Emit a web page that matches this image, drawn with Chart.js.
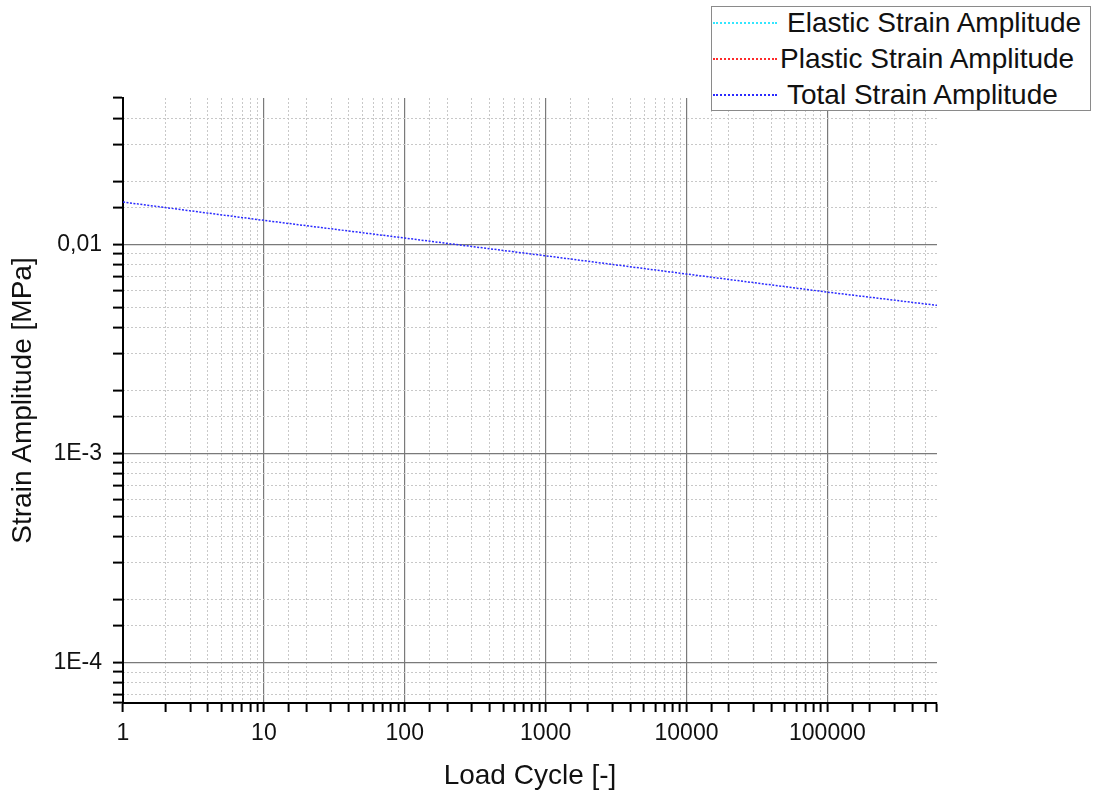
<!DOCTYPE html>
<html>
<head>
<meta charset="utf-8">
<script src="https://cdn.jsdelivr.net/npm/chart.js@4/dist/chart.umd.min.js"></script>
<style>
  html, body { margin: 0; padding: 0; background: #fff; }
  #wrap { position: relative; width: 1096px; height: 796px; }
  #legend {
    position: absolute; left: 711px; top: 6px; width: 378px; height: 103px;
    border: 1px solid #8a8a8a; background: #fff;
    font-family: "Liberation Sans", Arial, sans-serif; font-size: 28px; color: #111;
  }
  .sample { position: absolute; left: 1px; width: 64px; height: 0; border-top: 2px dotted; }
  .label { position: absolute; height: 30px; line-height: 30px; white-space: nowrap; }
</style>
</head>
<body>
<div id="wrap">
  <canvas id="myChart" width="1096" height="796"></canvas>
  <div id="legend"></div>
</div>
<script>
// values
const loadCycles = [1, 10, 100, 1000, 10000, 100000, 600000];
const totalStrain = [0.0159, 0.0130, 0.0107, 0.0088, 0.0072, 0.0059, 0.0051];
const elasticStrain = [];
const plasticStrain = [];
const seriesNames = ['Elastic Strain Amplitude', 'Plastic Strain Amplitude', 'Total Strain Amplitude'];
const seriesColors = ['#33e6ff', '#ff2a2a', '#2a2aff'];
const xRange = [1, 600000];
const yRange = [6.4e-5, 0.05];

const isDecade = (v) => {
  const l = Math.log10(v);
  return Math.abs(l - Math.round(l)) < 1e-6;
};
const toPoints = (ys) => ys.map((y, i) => ({ x: loadCycles[i], y }));

const family = '"Liberation Sans", Arial, sans-serif';
const tickFont = { family, size: 23 };
const titleFont = { family, size: 28 };

const data = {
  datasets: [elasticStrain, plasticStrain, totalStrain].map((ys, i) => ({
    label: seriesNames[i],
    data: toPoints(ys),
    borderColor: seriesColors[i],
    borderWidth: 1.5,
    borderDash: [2, 1.5],
    pointRadius: 0,
    fill: false,
  })),
};

const config = {
  type: 'line',
  data,
  options: {
    responsive: false,
    animation: false,
    layout: { padding: { top: 98, right: 159, left: 0, bottom: 0 } },
    plugins: { legend: { display: false }, tooltip: { enabled: false } },
    scales: {
      x: {
        type: 'logarithmic', position: 'bottom', min: xRange[0], max: xRange[1],
        afterFit: (s) => { s.height = 93; },
        grid: {
          color: (c) => (c.tick && isDecade(c.tick.value) ? '#7a7a7a' : 'rgba(0,0,0,0)'),
          lineWidth: 1.2,
          tickColor: '#000',
          tickLength: 9,
          tickWidth: 2,
        },
        border: { display: true, color: '#000', width: 2 },
        ticks: {
          autoSkip: false, maxRotation: 0, padding: 8, color: '#111', font: tickFont,
          callback: (v) => (isDecade(v) ? String(Math.round(v)) : ''),
        },
        title: { display: true, text: 'Load Cycle [-]', color: '#111', font: titleFont, padding: { top: 0, bottom: 3 } },
      },
      x2: {
        type: 'logarithmic', position: 'top', min: xRange[0], max: xRange[1],
        afterFit: (s) => { s.height = 0; },
        grid: {
          color: (c) => (c.tick && !isDecade(c.tick.value) && c.tick.value < xRange[1] ? '#c8c8c8' : 'rgba(0,0,0,0)'),
          lineWidth: 1, drawTicks: false,
        },
        border: { display: false, dash: [2, 2] },
        ticks: { display: false, autoSkip: false },
      },
      y: {
        type: 'logarithmic', position: 'left', min: yRange[0], max: yRange[1],
        afterFit: (s) => { s.width = 123; },
        grid: {
          color: (c) => (c.tick && isDecade(c.tick.value) ? '#7a7a7a' : 'rgba(0,0,0,0)'),
          lineWidth: 1.2,
          tickColor: '#000',
          tickLength: 10,
          tickWidth: 2,
        },
        border: { display: true, color: '#000', width: 2 },
        ticks: {
          autoSkip: false, padding: 11, color: '#111', font: tickFont,
          callback: (v) => {
            if (!isDecade(v)) return '';
            const e = Math.round(Math.log10(v));
            return e === -2 ? '0,01' : '1E' + e;
          },
        },
        title: { display: true, text: 'Strain Amplitude [MPa]', color: '#111', font: titleFont, padding: { top: 6, bottom: 0 } },
      },
      y2: {
        type: 'logarithmic', position: 'right', min: yRange[0], max: yRange[1],
        afterFit: (s) => { s.width = 0; },
        grid: {
          color: (c) => (c.tick && !isDecade(c.tick.value) && c.tick.value > yRange[0] && c.tick.value < yRange[1] ? '#c8c8c8' : 'rgba(0,0,0,0)'),
          lineWidth: 1, drawTicks: false,
        },
        border: { display: false, dash: [2, 2] },
        ticks: { display: false, autoSkip: false },
      },
    },
  },
};

const myChart = new Chart(document.getElementById('myChart'), config);

// legend as html box, built from the dataset labels
const legend = document.getElementById('legend');
const rowCenters = [16, 52, 88];
const textLeft = [75, 68, 75];
data.datasets.forEach((ds, i) => {
  const sample = document.createElement('div');
  sample.className = 'sample';
  sample.style.top = (rowCenters[i] - 1) + 'px';
  sample.style.borderTopColor = ds.borderColor;
  legend.appendChild(sample);
  const text = document.createElement('div');
  text.className = 'label';
  text.style.top = (rowCenters[i] - 15) + 'px';
  text.style.left = textLeft[i] + 'px';
  text.textContent = ds.label;
  legend.appendChild(text);
});
</script>
</body>
</html>
